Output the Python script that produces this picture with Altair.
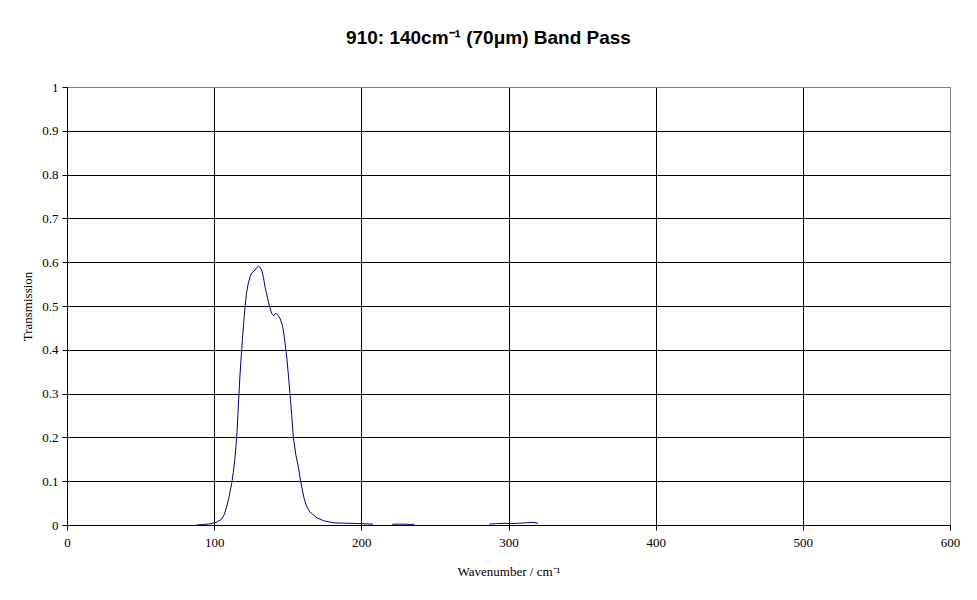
import altair as alt
import pandas as pd

# Main band (wavenumber cm^-1, transmission)
main_wn = [88, 92, 96, 99, 102, 105, 107, 108.5, 110, 111.9, 113, 114.2, 115.5, 116.4, 117.5,
           118.7, 120, 121, 122, 123.2, 124.5, 125.5, 126.5, 127.7, 129, 130, 131, 132.3, 133.5,
           134.5, 135.5, 136.8, 138, 139.1, 140.5, 141.5, 142.5, 143.5, 144.7, 146, 147, 148,
           149.3, 150.5, 151.5, 152.7, 153.8, 155.5, 157.2, 158.5, 159.5, 161, 162.9, 165, 167.4,
           170, 174.2, 178, 181, 190, 200, 208]
main_t = [0.0, 0.001, 0.002, 0.004, 0.007, 0.013, 0.025, 0.042, 0.062, 0.095, 0.12, 0.155, 0.21,
          0.27, 0.34, 0.40, 0.46, 0.498, 0.53, 0.552, 0.568, 0.575, 0.578, 0.582, 0.588, 0.591,
          0.589, 0.582, 0.565, 0.544, 0.53, 0.51, 0.495, 0.483, 0.478, 0.483, 0.482, 0.478, 0.472,
          0.46, 0.445, 0.42, 0.384, 0.34, 0.30, 0.25, 0.20, 0.16, 0.133, 0.105, 0.087, 0.062,
          0.042, 0.03, 0.023, 0.016, 0.010, 0.007, 0.005, 0.004, 0.003, 0.002]
# Small residual segments
seg2_wn = [221, 226, 231, 236]
seg2_t = [0.0015, 0.002, 0.0015, 0.0015]
seg3_wn = [287, 292, 297, 302, 307, 312, 316, 320]
seg3_t = [0.002, 0.003, 0.004, 0.003, 0.004, 0.005, 0.006, 0.004]

rows = []
for seg, (ws, ts) in enumerate([(main_wn, main_t), (seg2_wn, seg2_t), (seg3_wn, seg3_t)]):
    for w, t in zip(ws, ts):
        rows.append({"wn": w, "t": t, "seg": seg})
df = pd.DataFrame(rows)

serif = "Liberation Serif"

chart = alt.Chart(df).mark_line(color="#000080", strokeWidth=1).encode(
    x=alt.X("wn:Q", scale=alt.Scale(domain=[0, 600], nice=False),
            axis=alt.Axis(values=[0, 100, 200, 300, 400, 500, 600], title="Wavenumber / cm⁻¹",
                          gridColor={"condition": {"test": "datum.value === 600", "value": "#808080"}, "value": "black"},
                          labelPadding=6, titlePadding=16)),
    y=alt.Y("t:Q", scale=alt.Scale(domain=[0, 1], nice=False),
            axis=alt.Axis(values=[0, 0.1, 0.2, 0.3, 0.4, 0.5, 0.6, 0.7, 0.8, 0.9, 1], title="Transmission",
                          labelExpr="format(datum.value, '~g')",
                          gridColor={"condition": {"test": "datum.value === 1", "value": "#808080"}, "value": "black"},
                          labelPadding=4, titlePadding=7)),
    detail="seg:N",
).properties(
    width=883, height=438,
    title=alt.TitleParams("910: 140cm⁻¹ (70μm) Band Pass", font="Liberation Sans", fontSize=19,
                          fontWeight="bold", color="black", dx=-20, offset=33),
    autosize=alt.AutoSizeParams(type="none"),
    padding={"left": 59, "top": 79, "right": 19, "bottom": 60},
).configure_view(stroke="#808080", strokeWidth=1).configure_axis(
    gridOpacity=1, gridWidth=1, domainColor="black", domainWidth=1, tickColor="black",
    tickSize=5, labelFont=serif, labelFontSize=13, labelColor="black",
    titleFont=serif, titleFontSize=13, titleFontWeight="normal", titleColor="black",
).configure_axisY(labelFlush=False).configure_axisX(labelFlush=False)

chart.save("out.html", embed_options={"renderer": "svg", "actions": False})
